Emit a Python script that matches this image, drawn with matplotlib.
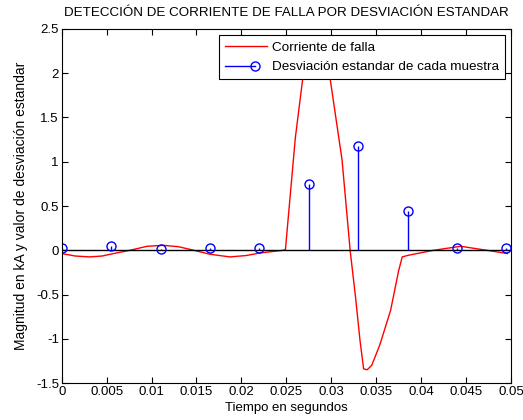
import numpy as np
import matplotlib.pyplot as plt
from matplotlib.lines import Line2D
from matplotlib.legend_handler import HandlerLine2D

plt.rcParams['font.family'] = ['Liberation Sans', 'DejaVu Sans']

# corriente de falla (kA)
t_corriente = [0, 0.0015, 0.0031, 0.0045, 0.0054, 0.0076, 0.0095, 0.0113, 0.013,
               0.0147, 0.0165, 0.0187, 0.0205, 0.0221, 0.0247, 0.0249, 0.0260,
               0.0268, 0.0276, 0.0283, 0.0291, 0.0299, 0.0312, 0.0321, 0.0327,
               0.0332, 0.0336, 0.0340, 0.0345, 0.0354, 0.0366, 0.0375, 0.0379,
               0.0386, 0.0399, 0.0414, 0.0444, 0.0473, 0.0496]
corriente = [-0.037, -0.065, -0.075, -0.065, -0.045, 0.0, 0.045, 0.056, 0.04,
             0.0, -0.045, -0.075, -0.06, -0.03, 0.0, 0.01, 1.27,
             1.92, 2.25, 2.38, 2.25, 1.92, 1.02, 0.0, -0.53,
             -1.02, -1.34, -1.35, -1.30, -1.07, -0.68, -0.23, -0.075,
             -0.056, -0.03, 0.0, 0.045, 0.0, -0.037]

# desviacion estandar por muestra
t_muestra = [0, 0.0055, 0.011, 0.0165, 0.022, 0.0275, 0.033, 0.0385, 0.044, 0.0495]
desviacion = [0.02, 0.05, 0.015, 0.03, 0.02, 0.75, 1.175, 0.44, 0.03, 0.03]


class HandlerStem(HandlerLine2D):
    # linea con el circulo antes del texto, como en matlab
    def create_artists(self, legend, orig_handle, xdescent, ydescent,
                       width, height, fontsize, trans):
        y = height / 2 - ydescent
        x0 = -xdescent
        x1 = x0 + 0.71 * width
        line = Line2D([x0, x1], [y, y], color='b', lw=1)
        mk = Line2D([x1], [y], marker='o', mfc='none', mec='b', ms=6.5, ls='none')
        line.set_transform(trans)
        mk.set_transform(trans)
        return [line, mk]


fig = plt.figure(figsize=(5.23, 4.20), dpi=100)
ax = fig.add_axes([0.118, 0.088, 0.859, 0.843])

ax.plot(t_corriente, corriente, 'r-', lw=1, label='Corriente de falla')
ax.axhline(0, color='k', lw=1)
ml, sl, bl = ax.stem(t_muestra, desviacion, linefmt='b-', markerfmt='bo', basefmt=' ')
ml.set_markerfacecolor('none')
ml.set_markersize(6.5)
sl.set_linewidth(1)

ax.set_xlim(0, 0.05)
ax.set_ylim(-1.5, 2.5)
ax.set_xticks(np.arange(0, 0.0501, 0.005))
ax.set_xticklabels(['0', '0.005', '0.01', '0.015', '0.02', '0.025', '0.03',
                    '0.035', '0.04', '0.045', '0.05'])
ax.set_yticks(np.arange(-1.5, 2.51, 0.5))
ax.set_yticklabels(['-1.5', '-1', '-0.5', '0', '0.5', '1', '1.5', '2', '2.5'])
ax.tick_params(direction='in', top=True, right=True, labelsize=9.5, length=4, pad=2)

ax.set_title('DETECCIÓN DE CORRIENTE DE FALLA POR DESVIACIÓN ESTANDAR', fontsize=9.6, pad=9)
ax.set_xlabel('Tiempo en segundos', fontsize=9.5, labelpad=3)
ax.set_ylabel('Magnitud en kA y valor de desviación estandar', fontsize=10, labelpad=6)

stem_proxy = Line2D([], [], color='b')
handles = [ax.lines[0], stem_proxy]
leg = ax.legend(handles, ['Corriente de falla', 'Desviación estandar de cada muestra'],
                loc='upper right', fontsize=9.7, fancybox=False, framealpha=1,
                edgecolor='k', borderaxespad=0.45, handlelength=3.1,
                handletextpad=0.35, labelspacing=0.55, borderpad=0.45,
                handler_map={stem_proxy: HandlerStem()})
leg.get_frame().set_linewidth(0.8)

plt.savefig('out.png', dpi=100)
